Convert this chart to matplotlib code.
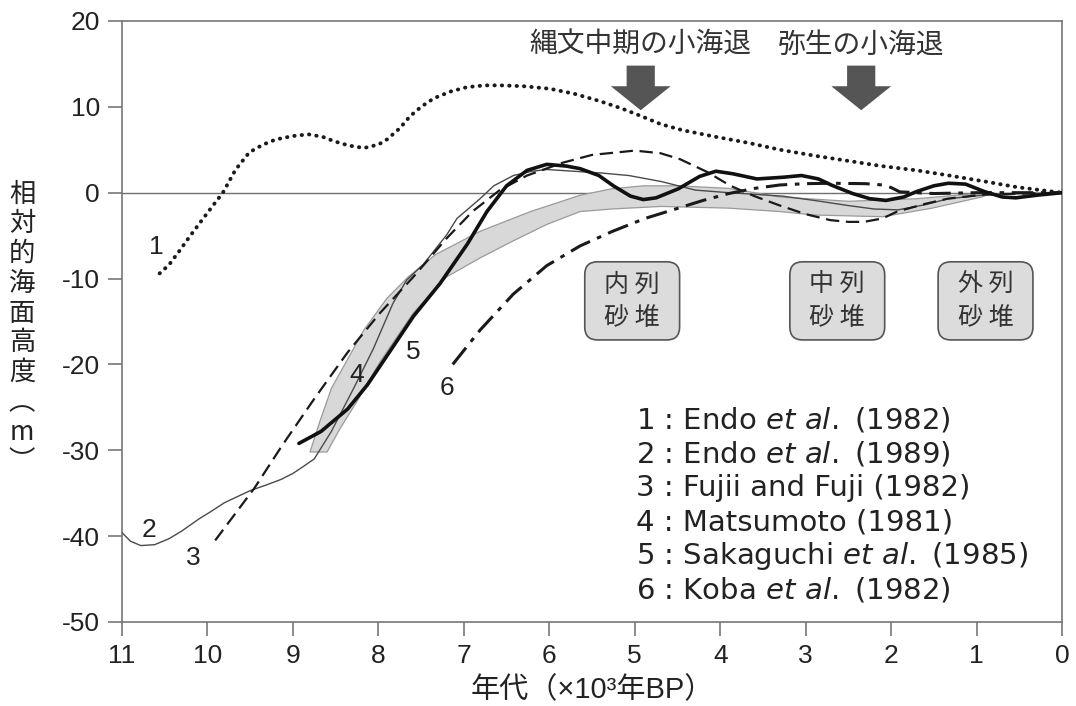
import numpy as np
import matplotlib
matplotlib.use("Agg")
import matplotlib.pyplot as plt
from matplotlib.patches import FancyBboxPatch, FancyArrow

plt.rcParams['font.family'] = ['Liberation Sans', 'Noto Sans CJK JP', 'DejaVu Sans']
plt.rcParams['mathtext.fontset'] = 'custom'
plt.rcParams['mathtext.rm'] = 'DejaVu Sans'
plt.rcParams['mathtext.it'] = 'DejaVu Sans:italic'

# ---------------- data (x: ka BP, y: relative sea level m) ----------------
c1_x = [10.56, 10.45, 10.33, 10.2, 10.05, 9.92, 9.82, 9.67, 9.51, 9.35, 9.2, 9.0, 8.82,
        8.65, 8.52, 8.35, 8.17, 8.0, 7.9, 7.75, 7.63, 7.5, 7.35, 7.15, 6.96, 6.75, 6.57,
        6.3, 5.99, 5.7, 5.42, 5.15, 4.92, 4.7, 4.45, 4.05, 3.67, 3.3, 2.89, 2.5, 2.11,
        1.7, 1.32, 0.9, 0.53, 0.25, 0.0]
c1_y = [-9.4, -8.4, -6.8, -5.0, -3.0, -1.3, 0.0, 2.7, 4.7, 5.6, 6.2, 6.6, 6.8,
        6.5, 6.0, 5.5, 5.2, 5.6, 6.2, 7.5, 8.9, 10.0, 11.0, 11.8, 12.3, 12.5, 12.5,
        12.4, 12.1, 11.5, 10.7, 9.8, 8.9, 8.0, 7.3, 6.5, 5.8, 5.0, 4.3, 3.7, 3.1,
        2.6, 2.0, 1.3, 0.65, 0.3, 0.0]

c2_x = [11.0, 10.9, 10.78, 10.62, 10.45, 10.3, 10.1, 9.97, 9.8, 9.65, 9.5, 9.3, 9.14,
        9.0, 8.88, 8.75, 8.55, 8.29, 8.06, 7.83, 7.67, 7.47, 7.2, 7.08, 6.81, 6.65,
        6.42, 6.2, 6.03, 5.72, 5.4, 5.07, 4.69, 4.29, 3.9, 3.27, 2.9, 2.5, 2.2, 1.92,
        1.6, 1.33, 0.94, 0.5, 0.0]
c2_y = [-39.6, -40.6, -41.1, -41.0, -40.3, -39.4, -38.0, -37.2, -36.1, -35.4, -34.7,
        -34.0, -33.4, -32.7, -31.9, -31.0, -27.8, -22.8, -18.2, -12.9, -10.2, -8.3,
        -4.9, -3.0, -0.7, 0.8, 2.0, 2.5, 2.7, 2.5, 2.3, 2.0, 1.3, 0.3, 0.0, -0.4,
        -0.9, -1.5, -1.9, -2.0, -1.4, -0.7, -0.3, -0.1, 0.0]

c3_x = [9.91, 9.45, 9.13, 8.75, 8.36, 7.98, 7.59, 7.2, 6.9, 6.58, 6.26, 5.84, 5.5,
        5.0, 4.7, 4.47, 4.15, 3.88, 3.6, 3.3, 3.0, 2.71, 2.5, 2.32, 2.1, 1.93, 1.6,
        1.34, 0.9, 0.0]
c3_y = [-40.5, -34.4, -29.5, -24.0, -18.6, -14.0, -9.8, -5.3, -2.2, 0.3, 2.0, 3.5,
        4.4, 4.9, 4.6, 3.9, 2.4, 0.8, -0.4, -1.5, -2.5, -3.2, -3.4, -3.4, -3.0, -2.2,
        -1.3, -0.7, -0.2, 0.0]

c4_upper_x = [8.8, 8.68, 8.55, 8.17, 7.9, 7.65, 7.33, 6.81, 6.22, 5.64, 5.27, 4.9,
              4.49, 3.9, 3.3, 2.5, 1.7, 1.0, 0.8]
c4_upper_y = [-30.2, -26.5, -22.8, -16.0, -12.3, -9.8, -7.2, -4.5, -2.2, -0.3, 0.45,
              0.8, 0.8, 0.5, -0.5, -1.0, -0.7, -0.1, 0.0]
c4_lower_x = [8.8, 8.6, 8.45, 8.25, 7.98, 7.59, 7.2, 6.81, 6.42, 6.03, 5.64, 5.27,
              4.69, 3.9, 3.3, 2.9, 2.1, 1.52, 0.94, 0.8]
c4_lower_y = [-30.2, -30.2, -27.5, -24.3, -19.7, -14.0, -9.8, -7.6, -5.6, -3.7, -2.2,
              -1.9, -1.6, -1.8, -2.2, -2.6, -2.8, -1.8, -0.5, 0.0]

c5_x = [8.93, 8.67, 8.36, 8.13, 7.9, 7.59, 7.28, 6.96, 6.73, 6.5, 6.26, 6.03, 5.8,
        5.64, 5.42, 5.25, 5.05, 4.9, 4.75, 4.49, 4.24, 4.05, 3.85, 3.57, 3.26, 3.05,
        2.85, 2.69, 2.45, 2.25, 2.06, 1.85, 1.71, 1.5, 1.33, 1.13, 0.9, 0.7, 0.54,
        0.3, 0.0]
c5_y = [-29.2, -27.8, -25.2, -22.4, -19.0, -14.4, -10.6, -6.0, -2.2, 0.8, 2.6, 3.3,
        3.1, 2.8, 2.0, 0.8, -0.4, -0.8, -0.6, 0.45, 1.9, 2.5, 2.2, 1.6, 1.8, 2.0,
        1.6, 0.85, -0.1, -0.7, -0.9, -0.5, 0.1, 0.8, 1.1, 1.0, 0.1, -0.5, -0.6,
        -0.3, 0.0]

c6_x = [7.13, 6.81, 6.42, 6.03, 5.64, 5.26, 4.88, 4.49, 4.2, 3.9, 3.6, 3.3, 3.0,
        2.71, 2.3, 2.1, 2.0, 1.9, 1.5, 1.0, 0.5, 0.0]
c6_y = [-20.0, -16.0, -11.8, -8.5, -6.2, -4.5, -3.0, -1.8, -0.9, -0.1, 0.5, 0.9,
        1.05, 1.1, 1.05, 0.9, 0.6, 0.1, -0.1, 0.0, 0.0, 0.0]

curve_labels = ['1', '2', '3', '4', '5', '6']
curve_label_x = [10.6, 10.69, 10.17, 8.25, 7.59, 7.2]
curve_label_y = [-6.3, -39.3, -42.6, -21.2, -18.5, -22.8]

legend_lines = [r'1 : Endo $\mathit{et\ al.}$ (1982)',
                r'2 : Endo $\mathit{et\ al.}$ (1989)',
                '3 : Fujii and Fuji (1982)',
                '4 : Matsumoto (1981)',
                r'5 : Sakaguchi $\mathit{et\ al.}$ (1985)',
                r'6 : Koba $\mathit{et\ al.}$ (1982)']

event_labels = ['縄文中期の小海退', '弥生の小海退']
event_x = [4.93, 2.35]

dune_top = ['内 列', '中 列', '外 列']
dune_bottom = ['砂 堆', '砂 堆', '砂 堆']
dune_x = [5.03, 2.63, 0.895]

x_ticks = list(range(0, 12))
y_ticks = [-50, -40, -30, -20, -10, 0, 10, 20]

# ---------------- figure ----------------
fig = plt.figure(figsize=(10.76, 7.06), dpi=100)
ax = fig.add_axes([0.1134, 0.119, 0.8736, 0.8513])
ax.set_xlim(11, 0)
ax.set_ylim(-50, 20)

ax.axhline(0, color='#707070', lw=1.0, zorder=1)

ax.fill(np.r_[c4_upper_x, c4_lower_x[::-1]], np.r_[c4_upper_y, c4_lower_y[::-1]],
        facecolor='#d8d8d8', edgecolor='#9a9a9a', lw=0.9, zorder=2)
ax.plot(c2_x, c2_y, color='#4a4a4a', lw=1.0, zorder=3)
ax.plot(c3_x, c3_y, color='#1a1a1a', lw=1.6, ls=(0, (6, 3)), zorder=4)
ax.plot(c6_x, c6_y, color='#1a1a1a', lw=2.2, ls=(0, (7, 2.5, 1.5, 2.5)), zorder=4)
ax.plot(c5_x, c5_y, color='#111111', lw=2.6, zorder=5, solid_capstyle='round',
        solid_joinstyle='round')
ax.plot(c1_x, c1_y, color='#1a1a1a', lw=2.8, ls=(0, (0.1, 1.8)),
        dash_capstyle='round', zorder=5)

for lab, lx, ly in zip(curve_labels, curve_label_x, curve_label_y):
    ax.text(lx, ly, lab, fontsize=19, color='#222222', ha='center', va='center', zorder=6)

# legend text
for i, line in enumerate(legend_lines):
    ax.text(4.98, -26.5 - 3.96 * i, line, fontsize=21, color='#222222',
            ha='left', va='center', family=['DejaVu Sans'], zorder=6)

# event labels and arrows
for lab, ex in zip(event_labels, event_x):
    ax.text(ex, 17.2, lab, fontsize=20, color='#333333', ha='center', va='center',
            family=['Noto Sans CJK JP', 'DejaVu Sans'], zorder=6)
    ax.add_patch(FancyArrow(ex, 14.8, 0, -5.2, width=0.33, head_width=0.70,
                            head_length=2.8, length_includes_head=True,
                            color='#555555', lw=0, zorder=6))

# dune boxes
for top, bot, dx in zip(dune_top, dune_bottom, dune_x):
    w, h = 1.11, 9.1
    ax.add_patch(FancyBboxPatch((dx - w / 2, -17.15), w, h,
                                boxstyle='round,pad=0,rounding_size=0.15',
                                mutation_aspect=10, facecolor='#dcdcdc',
                                edgecolor='#555555', lw=1.2, zorder=6))
    ax.text(dx, -10.75, top, fontsize=18, color='#333333', ha='center', va='center',
            family=['Noto Sans CJK JP', 'DejaVu Sans'], zorder=7)
    ax.text(dx, -14.6, bot, fontsize=18, color='#333333', ha='center', va='center',
            family=['Noto Sans CJK JP', 'DejaVu Sans'], zorder=7)

# axes styling
ax.set_xticks(x_ticks)
ax.set_yticks(y_ticks)
ax.set_xticklabels([str(t) for t in x_ticks])
ax.set_yticklabels([str(t) for t in y_ticks])
ax.tick_params(axis='both', direction='out', length=10, width=1.2, color='#777777',
               labelsize=19, labelcolor='#222222', pad=6)
for sp in ax.spines.values():
    sp.set_color('#777777')
    sp.set_linewidth(1.2)

fig.text(592 / 1076, 1 - 690 / 706, '年代（×10³年BP）', fontsize=21, color='#222222',
         ha='center', va='center', family=['Liberation Sans', 'Noto Sans CJK JP'])

ylab_chars = ['相', '対', '的', '海', '面', '高', '度', '︵', 'm', '︶']
fig.text(22 / 1076, 1 - 328 / 706, '\n'.join(ylab_chars), fontsize=19, color='#222222',
         ha='center', va='center', linespacing=1.13,
         family=['Noto Sans CJK JP', 'DejaVu Sans'])

fig.savefig('out.png', dpi=100, facecolor='white')
